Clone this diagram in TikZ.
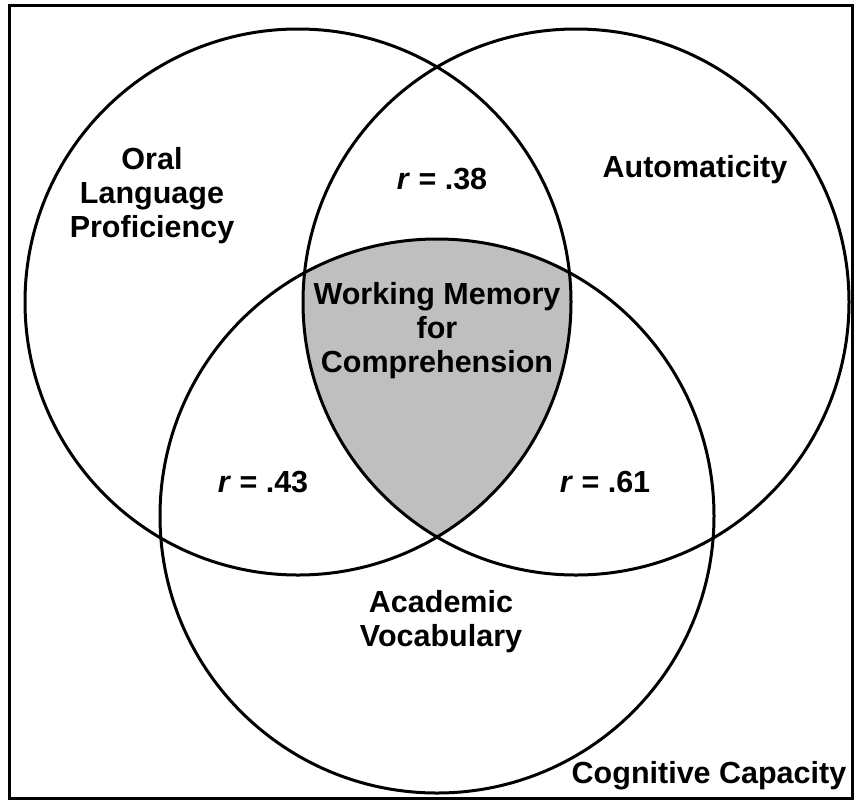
\documentclass[tikz,border=0pt]{standalone}
\usepackage{fontspec}
\setmainfont{Liberation Sans}
\begin{document}
\begin{tikzpicture}[x=1pt,y=-1pt,
  ring/.style={line width=3pt},
  label/.style={font=\bfseries\fontsize{30.5}{34}\selectfont, align=center, inner sep=0pt, anchor=base},
  core/.style={fill=black!25}]
  \useasboundingbox (0,0) rectangle (857,807);
  % outer frame
  \draw[line width=3pt] (9,5) rectangle (852,798);
  % shared region of all three circles
  \begin{scope}
    \clip (298,302) circle[radius=273];
    \clip (576,302) circle[radius=273];
    \fill[core] (437,516) circle[radius=277];
  \end{scope}
  % the three circles
  \draw[ring] (298,302) circle[radius=273];
  \draw[ring] (576,302) circle[radius=273];
  \draw[ring] (437,516) circle[radius=277];
  % labels (base anchor sits on the last line of each label)
  \node[label] (oral) at (152,237) {Oral\\Language\\Proficiency};
  \node[label] (auto) at (695,177) {Automaticity};
  \node[label] (r38) at (442,189) {\textit{r} = .38};
  \node[label] (wm) at (437,372) {Working Memory\\for\\Comprehension};
  \node[label] (r43) at (263,492) {\textit{r} = .43};
  \node[label] (r61) at (605,492) {\textit{r} = .61};
  \node[label] (acad) at (441,646) {Academic\\Vocabulary};
  \node[label] (cog) at (709,783) {Cognitive Capacity};
\end{tikzpicture}
\end{document}
